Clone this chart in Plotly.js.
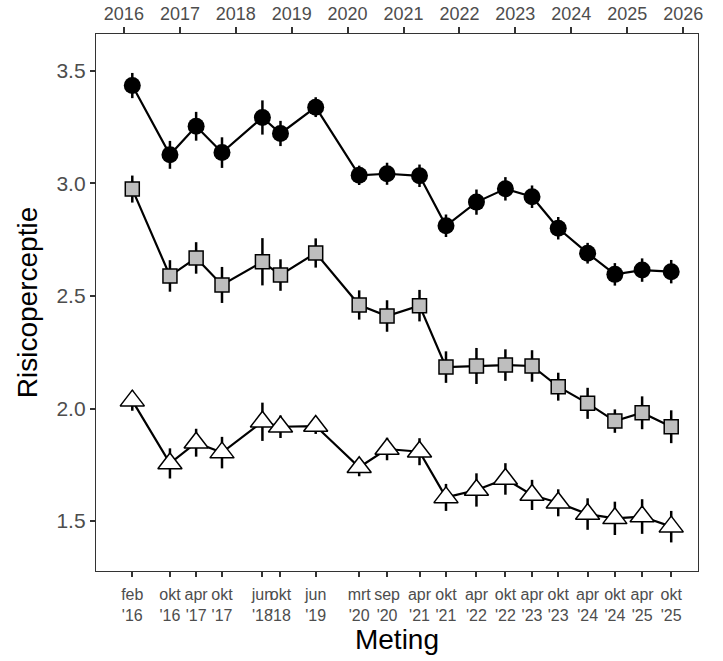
<!DOCTYPE html>
<html>
<head>
<meta charset="utf-8">
<script src="https://cdn.plot.ly/plotly-3.0.1.min.js"></script>
<style>html,body{margin:0;padding:0;background:#fff;}#chart{width:723px;height:661px;}</style>
</head>
<body>
<div id="chart"></div>
<script>
// Measurement dates (x positions on a date axis)
const dates = ["2016-02-25","2016-10-28","2017-04-17","2017-10-03","2018-06-24","2018-10-20","2019-06-07",
  "2020-03-17","2020-09-15","2021-04-15","2021-10-05","2022-04-22","2022-10-28","2023-04-20","2023-10-08",
  "2024-04-17","2024-10-12","2025-04-08","2025-10-15"];
const months = ["feb","okt","apr","okt","jun","okt","jun","mrt","sep","apr","okt","apr","okt","apr","okt","apr","okt","apr","okt"];
const yearsShort = ["'16","'16","'17","'17","'18","'18","'19","'20","'20","'21","'21","'22","'22","'23","'23","'24","'24","'25","'25"];

// Series: circles (black), squares (grey), triangles (white)
const circleVals = [3.435,3.127,3.254,3.137,3.293,3.222,3.339,3.036,3.043,3.034,2.812,2.917,2.976,2.941,2.801,2.690,2.596,2.615,2.608];
const circleErr  = [0.056,0.062,0.064,0.068,0.076,0.056,0.044,0.043,0.049,0.050,0.050,0.056,0.052,0.050,0.050,0.046,0.050,0.052,0.052];
const squareVals = [2.975,2.589,2.669,2.549,2.652,2.593,2.691,2.460,2.411,2.457,2.184,2.189,2.193,2.189,2.097,2.023,1.944,1.981,1.919];
const squareErr  = [0.060,0.070,0.070,0.080,0.105,0.070,0.065,0.065,0.070,0.070,0.070,0.080,0.070,0.070,0.062,0.069,0.052,0.073,0.073];
const triVals    = [2.035,1.756,1.848,1.804,1.941,1.919,1.922,1.739,1.820,1.808,1.605,1.638,1.687,1.616,1.581,1.531,1.512,1.520,1.475];
const triErr     = [0.045,0.067,0.062,0.070,0.085,0.050,0.035,0.040,0.050,0.060,0.060,0.074,0.070,0.067,0.060,0.070,0.074,0.077,0.070];

// Top axis years
const topYears = [2016,2017,2018,2019,2020,2021,2022,2023,2024,2025,2026];

const xRange = ["2015-07-03","2026-04-08"];
const tickFont = {family:"Liberation Sans, Arial, sans-serif", color:"#4D4D4D"};

function series(y, err, marker) {
  return {
    x: dates, y: y, type: "scatter", mode: "lines+markers",
    line: {color: "#000", width: 2.2},
    marker: marker,
    error_y: {type: "data", array: err, visible: true, color: "#000", thickness: 2.5, width: 0},
    showlegend: false, hoverinfo: "x+y"
  };
}

const traces = [
  series(circleVals, circleErr, {symbol: "circle", size: 17, color: "#000", line: {color: "#000", width: 0}}),
  series(squareVals, squareErr, {symbol: "square", size: 14, color: "#BEBEBE", line: {color: "#000", width: 1.5}}),
  series(triVals, triErr, {symbol: "triangle-up", size: 21, color: "#FFFFFF", line: {color: "#000", width: 1.5}}),
  {x: dates, y: circleVals, xaxis: "x2", type: "scatter", mode: "markers", marker: {opacity: 0}, hoverinfo: "skip", showlegend: false}
];

const layout = {
  width: 723, height: 661,
  margin: {l: 96, r: 25, t: 34, b: 90},
  paper_bgcolor: "#fff", plot_bgcolor: "#fff",
  showlegend: false,
  font: {family: "Liberation Sans, Arial, sans-serif"},
  xaxis: {
    type: "date", range: xRange,
    tickmode: "array", tickvals: dates,
    ticktext: months.map((m, i) => m + "<br>" + yearsShort[i]),
    tickangle: 0,
    tickfont: Object.assign({size: 16}, tickFont),
    ticklabelstandoff: 4,
    ticks: "outside", ticklen: 5, tickwidth: 2, tickcolor: "#333",
    showgrid: false, zeroline: false,
    showline: true, linecolor: "#333", linewidth: 1.2, mirror: true,
    title: {text: "Meting", font: {size: 28, color: "#000"}, standoff: 0}
  },
  xaxis2: {
    type: "date", range: xRange, overlaying: "x", side: "top", anchor: "y",
    tickmode: "array", tickvals: topYears.map(y => y + "-01-01"),
    ticktext: topYears.map(String),
    tickangle: 0,
    tickfont: Object.assign({size: 18}, tickFont),
    ticks: "outside", ticklen: 6, tickwidth: 2, tickcolor: "#333",
    showgrid: false, zeroline: false,
    showline: true, linecolor: "#333", linewidth: 1.2
  },
  yaxis: {
    range: [1.278, 3.664],
    tickmode: "array", tickvals: [1.5, 2.0, 2.5, 3.0, 3.5],
    ticktext: ["1.5", "2.0", "2.5", "3.0", "3.5"],
    tickfont: Object.assign({size: 21}, tickFont),
    ticks: "outside", ticklen: 5, tickwidth: 2, tickcolor: "#333",
    showgrid: false, zeroline: false,
    showline: true, linecolor: "#333", linewidth: 1.2, mirror: true,
    title: {text: "Risicoperceptie", font: {size: 28, color: "#000"}, standoff: 10}
  }
};

Plotly.newPlot("chart", traces, layout, {displayModeBar: false, staticPlot: true});
</script>
</body>
</html>
